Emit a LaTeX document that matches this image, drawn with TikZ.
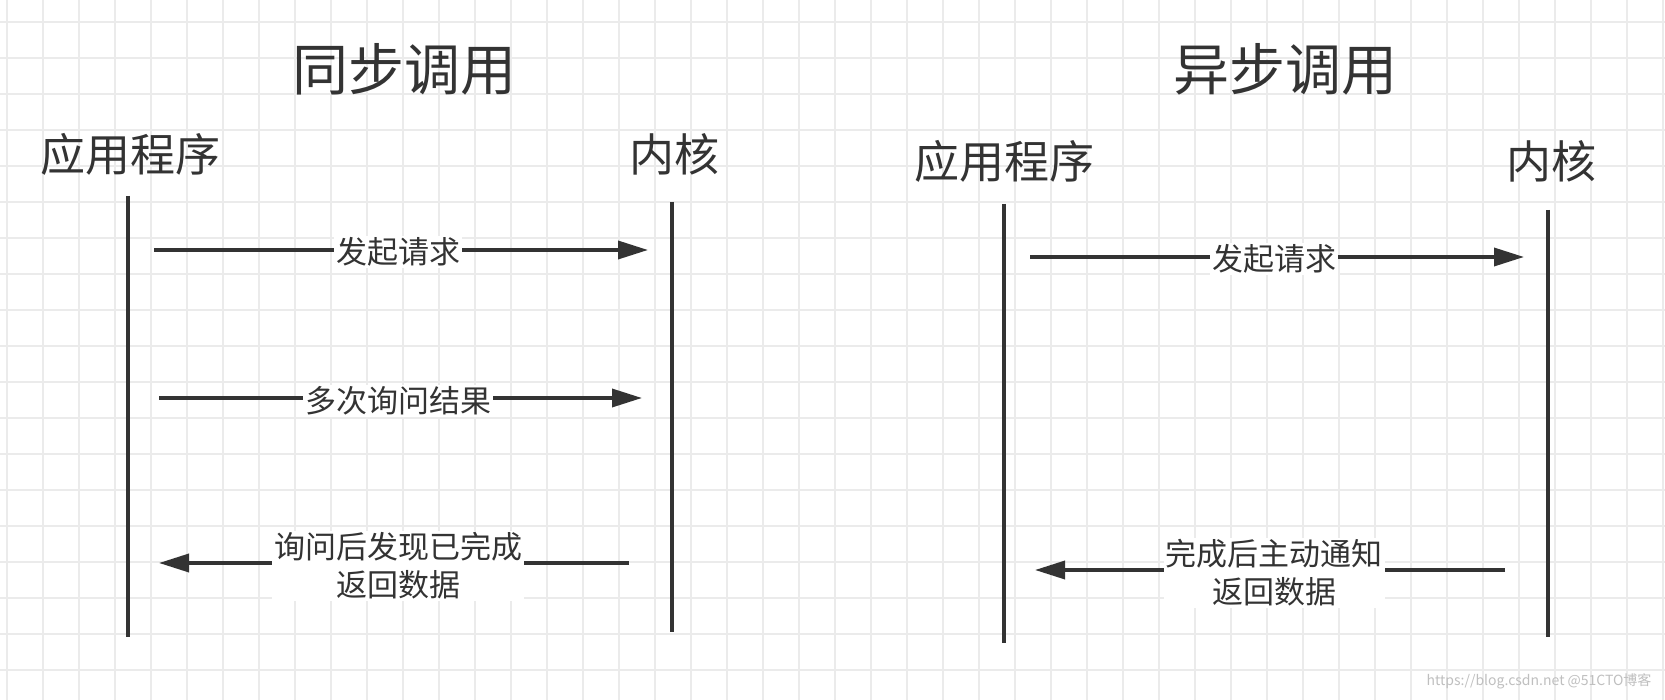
\documentclass[tikz,border=0pt]{standalone}
\usepackage{fontspec}
\setmainfont{Noto Sans CJK SC}
\usetikzlibrary{arrows.meta}
\definecolor{ink}{HTML}{333333}
\definecolor{gridc}{HTML}{EBEBEB}
\tikzset{
  life/.style={draw=ink,line width=4pt},
  msg/.style={draw=ink,line width=3.5pt,-{Triangle[length=30pt,width=18pt]}},
  lbl/.style={fill=white,text=ink,font=\fontsize{31}{38}\selectfont,inner sep=2pt,align=center},
  title/.style={text=ink,font=\fontsize{56}{60}\selectfont},
  actor/.style={text=ink,font=\fontsize{45}{50}\selectfont},
}
\begin{document}
\begin{tikzpicture}[x=1pt,y=-1pt]
\useasboundingbox (0,0) rectangle (1665,700);
\fill[white] (0,0) rectangle (1665,700);
\foreach \i in {0,...,46} \draw[gridc,line width=2pt] (7+36*\i,0) -- (7+36*\i,700);
\foreach \j in {0,...,19} \draw[gridc,line width=2pt] (0,22+36*\j) -- (1665,22+36*\j);

\node[title] (t1) at (404,69) {同步调用};
\node[title] (t2) at (1285,69) {异步调用};
\node[actor] (a1) at (130,154) {应用程序};
\node[actor] (k1) at (674,154) {内核};
\node[actor] (a2) at (1004,161) {应用程序};
\node[actor] (k2) at (1551,161) {内核};

\coordinate (l1t) at (128,196); \coordinate (l1b) at (128,637);
\coordinate (l2t) at (672,202); \coordinate (l2b) at (672,632);
\coordinate (l3t) at (1004,204); \coordinate (l3b) at (1004,643);
\coordinate (l4t) at (1548,210); \coordinate (l4b) at (1548,637);
\draw[life] (l1t) -- (l1b);
\draw[life] (l2t) -- (l2b);
\draw[life] (l3t) -- (l3b);
\draw[life] (l4t) -- (l4b);

\coordinate (m1s) at (154,250); \coordinate (m1e) at (648,250);
\coordinate (m2s) at (159,398); \coordinate (m2e) at (642,398);
\coordinate (m3s) at (629,563); \coordinate (m3e) at (159,563);
\coordinate (m4s) at (1030,257); \coordinate (m4e) at (1524,257);
\coordinate (m5s) at (1505,570); \coordinate (m5e) at (1035,570);
\draw[msg] (m1s) -- (m1e);
\draw[msg] (m2s) -- (m2e);
\draw[msg] (m3s) -- (m3e);
\draw[msg] (m4s) -- (m4e);
\draw[msg] (m5s) -- (m5e);

\node[lbl] (n1) at (398,252) {发起请求};
\node[lbl] (n2) at (398,401) {多次询问结果};
\node[lbl] (n3) at (398,566) {询问后发现已完成\\返回数据};
\node[lbl] (n4) at (1274,259) {发起请求};
\node[lbl] (n5) at (1274,573) {完成后主动通知\\返回数据};

\node[text=black!25,font=\fontsize{14}{16}\selectfont,anchor=east] (wm) at (1655,681) {https://blog.csdn.net @51CTO博客};
\end{tikzpicture}
\end{document}
